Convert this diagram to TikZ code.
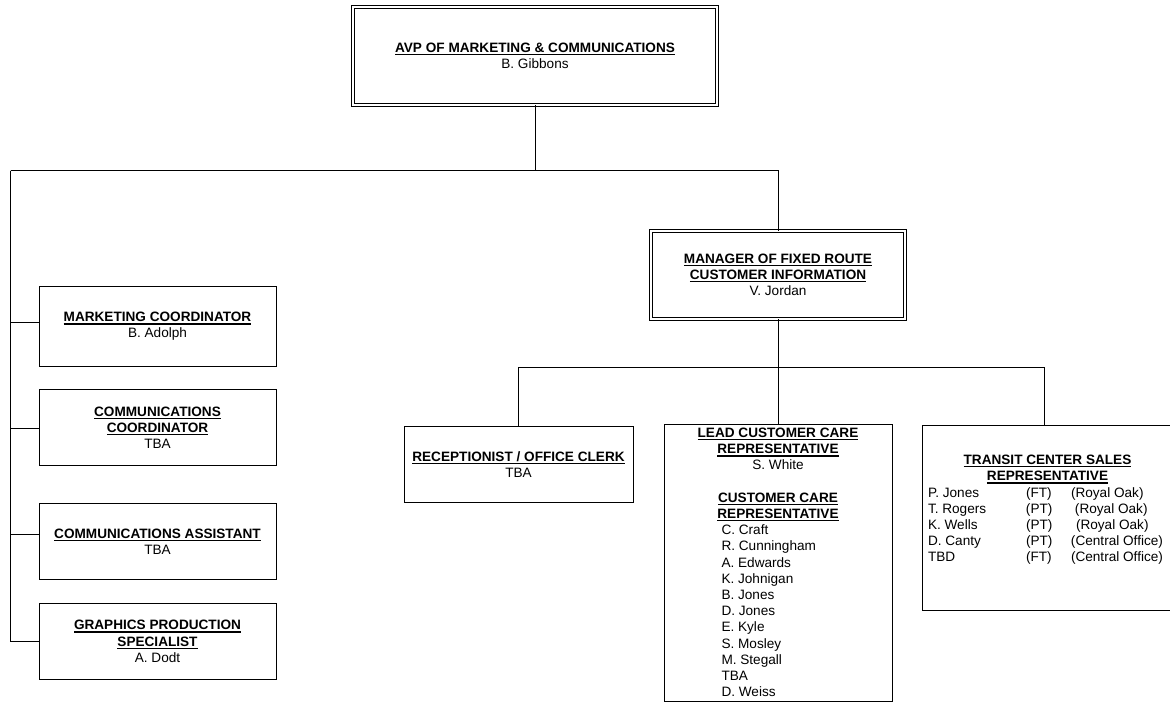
\documentclass[tikz,border=0pt]{standalone}
\usepackage{fontspec}
\setmainfont{Liberation Sans}
\usepackage{tikz}
\usetikzlibrary{positioning}
\tikzset{link/.style = {line width=1pt}}
\newcommand{\rolename}[1]{\setbox0\hbox{\bfseries #1}\rlap{\rule[-2.8pt]{\wd0}{1.3pt}}\box0}
\newcommand{\staffname}[1]{\makebox[113pt][l]{#1}}
\newcommand{\tcsrow}[3]{\makebox[239pt][l]{\makebox[98pt][l]{#1}\makebox[45pt][l]{#2}#3}}

\begin{document}
\begin{tikzpicture}[x=1pt,y=-1pt,
    every node/.style={font=\fontsize{13.6}{16.2}\selectfont,align=center,inner sep=2pt,outer sep=0pt},
    main node/.style={draw,line width=1pt,fill=white,minimum width=237pt,minimum height=76pt},
    head node/.style={main node,double,double distance=2pt}]
    \useasboundingbox (0,0) rectangle (1170,702);

    \node[head node,minimum width=364pt,minimum height=98pt] (avp) at (535,56)
        {\rolename{AVP OF MARKETING \& COMMUNICATIONS}\\B. Gibbons};
    \node[head node,minimum width=254pt,minimum height=88pt] (mgr) at (778,275)
        {\rolename{MANAGER OF FIXED ROUTE}\\\rolename{CUSTOMER INFORMATION}\\V. Jordan};

    % left column
    \node[main node,minimum height=80pt] (mc) at (157.5,326.5) {\rolename{MARKETING COORDINATOR}\\B. Adolph};
    \node[main node] (cc) [below=23pt of mc] {\rolename{COMMUNICATIONS}\\\rolename{COORDINATOR}\\TBA};
    \node[main node] (ca) [below=38pt of cc] {\rolename{COMMUNICATIONS ASSISTANT}\\TBA};
    \node[main node] (gps) [below=24pt of ca] {\rolename{GRAPHICS PRODUCTION}\\\rolename{SPECIALIST}\\A. Dodt};

    % under the manager
    \node[main node,minimum width=229pt] (rec) at (518.5,464.5) {\rolename{RECEPTIONIST / OFFICE CLERK}\\TBA};
    \node[main node,minimum width=228pt,minimum height=277pt] (lead) at (778,562.5)
        {\rolename{LEAD CUSTOMER CARE}\\\rolename{REPRESENTATIVE}\\S. White\hspace*{16pt}\\[16.2pt]
         \rolename{CUSTOMER CARE}\\\rolename{REPRESENTATIVE}\\
         \staffname{C. Craft}\\\staffname{R. Cunningham}\\\staffname{A. Edwards}\\
         \staffname{K. Johnigan}\\\staffname{B. Jones}\\\staffname{D. Jones}\\
         \staffname{E. Kyle}\\\staffname{S. Mosley}\\\staffname{M. Stegall}\\
         \staffname{TBA}\\\staffname{D. Weiss}};
    \node[main node,minimum width=250pt,minimum height=185pt,text depth=18pt] (tcs) at (1047.5,517.5)
        {\rolename{TRANSIT CENTER SALES}\\\rolename{REPRESENTATIVE}\\
         \tcsrow{P. Jones}{(FT)}{(Royal Oak)}\\
         \tcsrow{T. Rogers}{(PT)}{\hspace*{4pt}(Royal Oak)}\\
         \tcsrow{K. Wells}{(PT)}{\hspace*{5pt}(Royal Oak)}\\
         \tcsrow{D. Canty}{(PT)}{(Central Office)}\\
         \tcsrow{TBD}{(FT)}{(Central Office)}};

    \coordinate (busl) at (10.5,170.5);
    \coordinate (busa) at (518.5,367.5);
    \coordinate (busb) at (1044.5,367.5);

    \draw[link] (avp) -- (avp |- busl);
    \draw[link] (busl) -- (mgr |- busl) -- (mgr);
    \foreach \n/\dy in {mc/4.5,cc/-1,ca/7,gps/0}
        \draw[link] (busl) |- ([yshift=\dy pt]\n.west);
    \draw[link] (mgr) -- (mgr |- busa);
    \draw[link] (rec) -- (rec |- busa) -- (busb) -- (busb |- tcs.north);
    \draw[link] (lead) -- (lead |- busa);
\end{tikzpicture}
\end{document}
